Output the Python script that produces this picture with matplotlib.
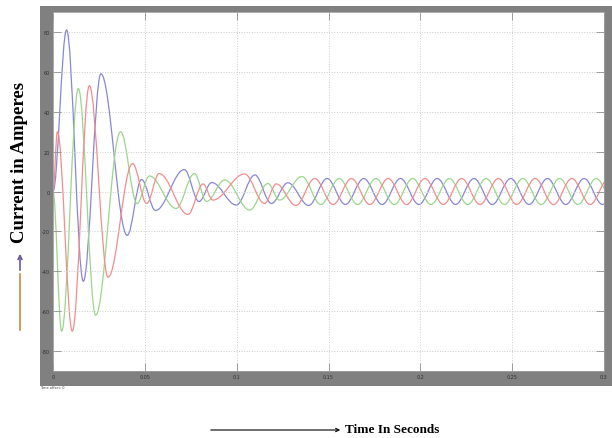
import matplotlib.pyplot as plt
from matplotlib.patches import Rectangle, PathPatch, FancyArrowPatch
from matplotlib.path import Path

# peaks / troughs (time s, current A)
red_t = [0.0, 0.0024, 0.0105, 0.0198, 0.0300, 0.0433, 0.0510, 0.0578, 0.0735, 0.0817, 0.0870,
         0.1043, 0.1152, 0.1216, 0.1322, 0.1425, 0.1525, 0.1625, 0.1725, 0.1825, 0.1925, 0.2025,
         0.2125, 0.2225, 0.2325, 0.2425, 0.2525, 0.2625, 0.2725, 0.2825, 0.2925, 0.3025]
red_v = [0, 30, -70, 53, -43, 14, -6, 9, -11.5, 3.8, -4.3,
         8.8, -6, 3.8, -7, 6.5, -6.5, 6.5, -6.5, 6.5, -6.5, 6.5,
         -6.5, 6.5, -6.5, 6.5, -6.5, 6.5, -6.5, 6.5, -6.5, 6.5]

blue_t = [0.0, 0.0074, 0.0165, 0.0261, 0.0404, 0.0482, 0.0558, 0.0715, 0.0795, 0.0864, 0.0998,
          0.1099, 0.1189, 0.1279, 0.1392, 0.1492, 0.1592, 0.1692, 0.1792, 0.1892, 0.1992, 0.2092,
          0.2192, 0.2292, 0.2392, 0.2492, 0.2592, 0.2692, 0.2792, 0.2892, 0.2992, 0.3092]
blue_v = [0, 81, -45, 59, -22, 6, -9.5, 11, -5, 4.5, -6.8,
          8.3, -6, 4.4, -7, 6.5, -6.5, 6.5, -6.5, 6.5, -6.5, 6.5,
          -6.5, 6.5, -6.5, 6.5, -6.5, 6.5, -6.5, 6.5, -6.5, 6.5]

green_t = [0.0, 0.0047, 0.0138, 0.0232, 0.0368, 0.0458, 0.0525, 0.0670, 0.0770, 0.0836, 0.0935,
           0.1071, 0.1170, 0.1233, 0.1355, 0.1458, 0.1558, 0.1658, 0.1758, 0.1858, 0.1958, 0.2058,
           0.2158, 0.2258, 0.2358, 0.2458, 0.2558, 0.2658, 0.2758, 0.2858, 0.2958, 0.3058]
green_v = [0, -70, 51.6, -62, 30, -6, 7.8, -8.5, 9, -5, 5.8,
           -9.3, 4, -4.3, 7.5, -6.5, 6.5, -6.5, 6.5, -6.5, 6.5, -6.5,
           6.5, -6.5, 6.5, -6.5, 6.5, -6.5, 6.5, -6.5, 6.5, -6.5]

xticks = [0, 0.05, 0.1, 0.15, 0.2, 0.25, 0.3]
xticklabels = ['0', '0.05', '0.1', '0.15', '0.2', '0.25', '0.3']
yticks = [80, 60, 40, 20, 0, -20, -40, -60, -80]

W, H = 612, 439


def wave(ts, vs):
    # smooth curve through the extrema: cubic bezier, flat at each extremum
    verts = [(ts[0], vs[0])]
    codes = [Path.MOVETO]
    for i in range(len(ts) - 1):
        dt = ts[i + 1] - ts[i]
        verts += [(ts[i] + 0.36 * dt, vs[i]), (ts[i + 1] - 0.36 * dt, vs[i + 1]), (ts[i + 1], vs[i + 1])]
        codes += [Path.CURVE4] * 3
    return Path(verts, codes)


fig = plt.figure(figsize=(W / 100, H / 100), dpi=100)
fig.patches.append(Rectangle((40 / W, 1 - 386.5 / H), (W - 40) / W, (386.5 - 7) / H,
                             transform=fig.transFigure, facecolor='#808080', edgecolor='none',
                             zorder=-10))

ax = fig.add_axes([53 / W, 1 - 372 / H, (604 - 53) / W, (372 - 13) / H])
ax.set_facecolor('white')

for ts, vs, c in [(blue_t, blue_v, '#8787d4'), (green_t, green_v, '#9bd68a'), (red_t, red_v, '#f38c8c')]:
    ax.add_patch(PathPatch(wave(ts, vs), fill=False, edgecolor=c, lw=0.9))

ax.set_xlim(0, 0.3)
ax.set_ylim(-90, 90)
ax.set_xticks(xticks)
ax.set_xticklabels(xticklabels)
ax.set_yticks(yticks)
ax.set_yticklabels([str(v) for v in yticks])
ax.grid(True, color='#cccccc', linestyle=':', linewidth=0.7)
ax.tick_params(direction='in', length=6, width=0.6, color='#909090', labelsize=3.5,
               labelcolor='#303030', top=True, right=True, pad=2)
for s in ax.spines.values():
    s.set_color('#a0a0a0')
    s.set_linewidth(0.6)

fig.text(40 / W, 1 - 388 / H, 'Time offset: 0', fontsize=2.5, color='#404040', va='center')

# y label with arrow
fig.text(20 / W, 1 - 162 / H, 'Current in Amperes', rotation=90, ha='center', va='center',
         fontsize=13.5, fontweight='bold', family='Liberation Serif')
fig.add_artist(FancyArrowPatch((20 / W, 1 - 334 / H), (20 / W, 1 - 272 / H), transform=fig.transFigure,
                               arrowstyle='-', color='#cc8a4a', lw=1.2))
fig.add_artist(FancyArrowPatch((20 / W, 1 - 274 / H), (20 / W, 1 - 252 / H), transform=fig.transFigure,
                               arrowstyle='->', mutation_scale=7, color='#6a5a9a', lw=1.2))

# x label with arrow
fig.add_artist(FancyArrowPatch((208 / W, 1 - 431 / H), (343 / W, 1 - 431 / H), transform=fig.transFigure,
                               arrowstyle='->', mutation_scale=6, color='black', lw=0.8))
fig.text(345 / W, 1 - 430 / H, 'Time In Seconds', ha='left', va='center', fontsize=9.5,
         fontweight='bold', family='Liberation Serif')

fig.savefig('out.png', dpi=100)
